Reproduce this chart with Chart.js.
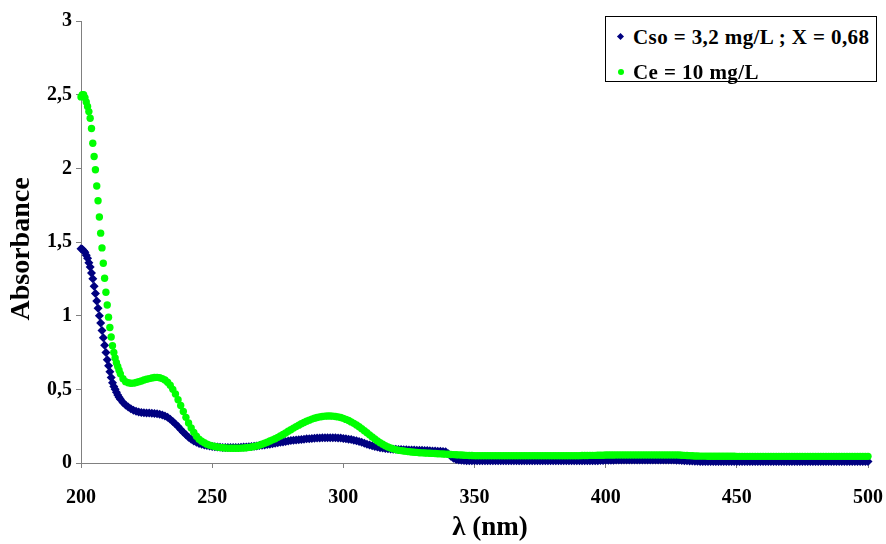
<!DOCTYPE html>
<html>
<head>
<meta charset="utf-8">
<script src="https://cdn.jsdelivr.net/npm/chart.js@4.4.1/dist/chart.umd.min.js"></script>
<style>
  body { margin: 0; background: #fff; }
  #wrap { position: relative; width: 886px; height: 544px; }
  .legend {
    position: absolute; left: 605px; top: 16px; width: 270px; height: 64px;
    border: 1px solid #000; background: #fff;
    font: bold 21px "Liberation Serif", "Times New Roman", serif; color: #000;
    letter-spacing: 0.4px;
  }
  .legend .row { position: absolute; left: 27px; line-height: 24px; white-space: nowrap; }
  .legend .mark { position: absolute; }
  .diamond { width: 5px; height: 5px; background: #000080; transform: rotate(45deg); }
  .dot { width: 6px; height: 6px; border-radius: 50%; background: #00ff00; }
</style>
</head>
<body>
<div id="wrap">
  <canvas id="spectrum" width="886" height="544"></canvas>
  <div class="legend">
    <div class="mark diamond" style="left:12px; top:17px;"></div>
    <div class="row" style="top:8px;">Cso = 3,2 mg/L ; X = 0,68</div>
    <div class="mark dot" style="left:12px; top:52px;"></div>
    <div class="row" style="top:43px;">Ce = 10 mg/L</div>
  </div>
</div>
<script>
// wavelengths (nm): 0.5 nm steps up to 215, then 1 nm
const wavelength = [
  200,200.5,201,201.5,202,202.5,203,203.5,204,204.5,
  205,205.5,206,206.5,207,207.5,208,208.5,209,209.5,
  210,210.5,211,211.5,212,212.5,213,213.5,214,214.5,
  215,216,217,218,219,220,221,222,223,224,
  225,226,227,228,229,230,231,232,233,234,
  235,236,237,238,239,240,241,242,243,244,
  245,246,247,248,249,250,251,252,253,254,
  255,256,257,258,259,260,261,262,263,264,
  265,266,267,268,269,270,271,272,273,274,
  275,276,277,278,279,280,281,282,283,284,
  285,286,287,288,289,290,291,292,293,294,
  295,296,297,298,299,300,301,302,303,304,
  305,306,307,308,309,310,311,312,313,314,
  315,316,317,318,319,320,321,322,323,324,
  325,326,327,328,329,330,331,332,333,334,
  335,336,337,338,339,340,341,342,343,344,
  345,346,347,348,349,350,351,352,353,354,
  355,356,357,358,359,360,361,362,363,364,
  365,366,367,368,369,370,371,372,373,374,
  375,376,377,378,379,380,381,382,383,384,
  385,386,387,388,389,390,391,392,393,394,
  395,396,397,398,399,400,401,402,403,404,
  405,406,407,408,409,410,411,412,413,414,
  415,416,417,418,419,420,421,422,423,424,
  425,426,427,428,429,430,431,432,433,434,
  435,436,437,438,439,440,441,442,443,444,
  445,446,447,448,449,450,451,452,453,454,
  455,456,457,458,459,460,461,462,463,464,
  465,466,467,468,469,470,471,472,473,474,
  475,476,477,478,479,480,481,482,483,484,
  485,486,487,488,489,490,491,492,493,494,
  495,496,497,498,499,500
];

// Cso = 3,2 mg/L ; X = 0,68
const absCso = [
  1.455,1.45,1.44,1.43,1.41,1.39,1.36,1.33,1.29,1.25,
  1.2,1.15,1.1,1.05,1.0,0.95,0.9,0.85,0.8,0.75,
  0.7,0.66,0.62,0.58,0.545,0.52,0.5,0.48,0.462,0.447,
  0.432,0.41,0.394,0.38,0.368,0.358,0.351,0.346,0.343,0.341,
  0.34,0.339,0.338,0.336,0.334,0.331,0.326,0.319,0.31,0.297,
  0.282,0.265,0.247,0.228,0.209,0.191,0.175,0.161,0.15,0.141,
  0.133,0.127,0.122,0.118,0.115,0.112,0.11,0.108,0.107,0.106,
  0.105,0.105,0.105,0.105,0.105,0.106,0.107,0.108,0.109,0.11,
  0.112,0.114,0.116,0.118,0.12,0.122,0.125,0.128,0.131,0.134,
  0.137,0.14,0.143,0.146,0.149,0.152,0.154,0.156,0.158,0.16,
  0.162,0.164,0.165,0.167,0.168,0.169,0.17,0.171,0.171,0.172,
  0.172,0.172,0.171,0.17,0.169,0.167,0.165,0.162,0.159,0.155,
  0.151,0.146,0.14,0.134,0.128,0.122,0.117,0.112,0.108,0.104,
  0.101,0.099,0.097,0.095,0.094,0.093,0.092,0.091,0.09,0.09,
  0.089,0.088,0.088,0.087,0.086,0.086,0.085,0.084,0.083,0.082,
  0.081,0.08,0.079,0.078,0.077,0.062,0.045,0.032,0.024,0.02,
  0.018,0.017,0.016,0.016,0.015,0.015,0.015,0.015,0.015,0.015,
  0.015,0.015,0.015,0.015,0.015,0.015,0.015,0.015,0.015,0.015,
  0.015,0.015,0.015,0.015,0.015,0.015,0.015,0.015,0.015,0.015,
  0.015,0.015,0.015,0.015,0.015,0.015,0.015,0.015,0.015,0.015,
  0.015,0.015,0.015,0.015,0.015,0.015,0.015,0.015,0.015,0.015,
  0.015,0.016,0.016,0.017,0.017,0.018,0.018,0.019,0.019,0.02,
  0.02,0.02,0.02,0.02,0.02,0.02,0.02,0.02,0.02,0.02,
  0.02,0.02,0.02,0.02,0.02,0.02,0.02,0.02,0.02,0.02,
  0.02,0.02,0.019,0.018,0.017,0.016,0.015,0.014,0.013,0.012,
  0.012,0.011,0.011,0.011,0.011,0.011,0.011,0.011,0.011,0.011,
  0.01,0.01,0.01,0.01,0.01,0.01,0.01,0.01,0.01,0.01,
  0.01,0.01,0.01,0.01,0.01,0.01,0.01,0.01,0.01,0.01,
  0.01,0.01,0.01,0.01,0.01,0.01,0.01,0.01,0.01,0.01,
  0.01,0.01,0.01,0.01,0.01,0.01,0.01,0.01,0.01,0.01,
  0.01,0.01,0.01,0.01,0.01,0.01,0.01,0.01,0.01,0.01,
  0.01,0.01,0.01,0.01,0.01,0.01
];

// Ce = 10 mg/L
const absCe = [
  2.485,2.5,2.5,2.48,2.45,2.42,2.385,2.34,2.27,2.17,
  2.08,1.99,1.88,1.78,1.67,1.56,1.46,1.356,1.254,1.159,
  1.072,0.99,0.92,0.855,0.796,0.75,0.713,0.68,0.655,0.63,
  0.605,0.572,0.552,0.545,0.541,0.542,0.546,0.551,0.557,0.563,
  0.568,0.573,0.577,0.58,0.581,0.579,0.573,0.563,0.548,0.528,
  0.5,0.468,0.43,0.39,0.35,0.31,0.272,0.238,0.208,0.182,
  0.162,0.148,0.137,0.128,0.121,0.116,0.112,0.109,0.106,0.104,
  0.102,0.101,0.1,0.1,0.1,0.1,0.101,0.102,0.104,0.106,
  0.109,0.112,0.116,0.121,0.127,0.134,0.141,0.149,0.157,0.165,
  0.174,0.184,0.194,0.204,0.215,0.226,0.237,0.247,0.257,0.266,
  0.275,0.283,0.291,0.298,0.304,0.309,0.313,0.316,0.318,0.319,
  0.319,0.318,0.316,0.313,0.309,0.303,0.296,0.288,0.279,0.269,
  0.258,0.246,0.233,0.219,0.205,0.191,0.177,0.163,0.15,0.138,
  0.127,0.117,0.109,0.102,0.096,0.091,0.087,0.084,0.081,0.079,
  0.077,0.075,0.073,0.072,0.07,0.069,0.068,0.067,0.066,0.065,
  0.064,0.063,0.062,0.061,0.06,0.059,0.058,0.057,0.056,0.055,
  0.054,0.053,0.052,0.051,0.051,0.05,0.05,0.05,0.05,0.05,
  0.05,0.05,0.05,0.05,0.05,0.05,0.05,0.05,0.05,0.05,
  0.05,0.05,0.05,0.05,0.05,0.05,0.05,0.05,0.05,0.05,
  0.05,0.05,0.05,0.05,0.05,0.05,0.05,0.05,0.05,0.05,
  0.05,0.05,0.05,0.05,0.05,0.05,0.051,0.051,0.051,0.052,
  0.052,0.052,0.053,0.053,0.053,0.054,0.054,0.054,0.054,0.055,
  0.055,0.055,0.055,0.055,0.055,0.055,0.055,0.055,0.055,0.055,
  0.055,0.055,0.055,0.055,0.055,0.055,0.055,0.055,0.055,0.055,
  0.055,0.055,0.055,0.054,0.053,0.052,0.051,0.05,0.049,0.048,
  0.048,0.047,0.047,0.047,0.046,0.046,0.046,0.046,0.046,0.046,
  0.046,0.046,0.046,0.046,0.046,0.045,0.045,0.045,0.045,0.045,
  0.045,0.045,0.045,0.045,0.045,0.045,0.045,0.045,0.045,0.045,
  0.045,0.045,0.045,0.045,0.045,0.045,0.045,0.045,0.045,0.045,
  0.045,0.045,0.045,0.045,0.045,0.045,0.045,0.045,0.045,0.045,
  0.045,0.045,0.045,0.045,0.045,0.045,0.045,0.045,0.045,0.045,
  0.045,0.045,0.045,0.045,0.045,0.045
];

const xTicks = [200, 250, 300, 350, 400, 450, 500];
const yTicks = [0, 0.5, 1, 1.5, 2, 2.5, 3];
const xTitle = 'λ (nm)';
const yTitle = 'Absorbance';

const toPoints = ys => wavelength.map((x, i) => ({ x, y: ys[i] }));
const serif = '"Liberation Serif", "Times New Roman", serif';
const tickFont = { family: serif, size: 20, weight: 'bold' };
const axisGrey = '#808080';

// axis titles sit a little off-centre in the original, so draw them by hand
const axisTitles = {
    id: 'axisTitles',
    afterDraw(chart) {
        const { ctx } = chart;
        ctx.save();
        ctx.fillStyle = '#000';
        ctx.textAlign = 'center';
        ctx.textBaseline = 'middle';
        ctx.font = 'bold 27px ' + serif;
        ctx.fillText(xTitle, 490, 528);
        ctx.translate(22, 249);
        ctx.rotate(-Math.PI / 2);
        ctx.font = 'bold 28px ' + serif;
        ctx.fillText(yTitle, 0, 0);
        ctx.restore();
    }
};

new Chart(document.getElementById('spectrum'), {
    type: 'scatter',
    data: {
        datasets: [
            {
                label: 'Cso = 3,2 mg/L ; X = 0,68',
                data: toPoints(absCso),
                pointStyle: 'rectRot',
                pointRadius: 4.5,
                pointBackgroundColor: '#000080',
                pointBorderWidth: 0,
                order: 2,
                clip: false
            },
            {
                label: 'Ce = 10 mg/L',
                data: toPoints(absCe),
                pointStyle: 'circle',
                pointRadius: 3.7,
                pointBackgroundColor: '#00ff00',
                pointBorderWidth: 0,
                order: 1,
                clip: false
            }
        ]
    },
    options: {
        responsive: false,
        animation: false,
        events: [],
        layout: { padding: { top: 21, right: 18, left: 0, bottom: 0 } },
        plugins: { legend: { display: false }, tooltip: { enabled: false } },
        scales: {
            x: {
                type: 'linear',
                min: xTicks[0],
                max: xTicks[xTicks.length - 1],
                afterBuildTicks: s => { s.ticks = xTicks.map(v => ({ value: v })); },
                afterFit: s => { s.height = 81; s.paddingLeft = 0; s.paddingRight = 0; },
                ticks: { font: tickFont, color: '#000', padding: 18, maxRotation: 0 },
                grid: { drawOnChartArea: false, tickLength: 5, color: axisGrey },
                border: { color: axisGrey }
            },
            y: {
                min: yTicks[0],
                max: yTicks[yTicks.length - 1],
                afterBuildTicks: s => { s.ticks = yTicks.map(v => ({ value: v })); },
                afterFit: s => { s.width = 81; },
                ticks: {
                    font: tickFont, color: '#000', padding: 4,
                    callback: v => String(v).replace('.', ',')
                },
                grid: { drawOnChartArea: false, tickLength: 5, color: axisGrey },
                border: { color: axisGrey }
            }
        }
    },
    plugins: [axisTitles]
});
</script>
</body>
</html>
